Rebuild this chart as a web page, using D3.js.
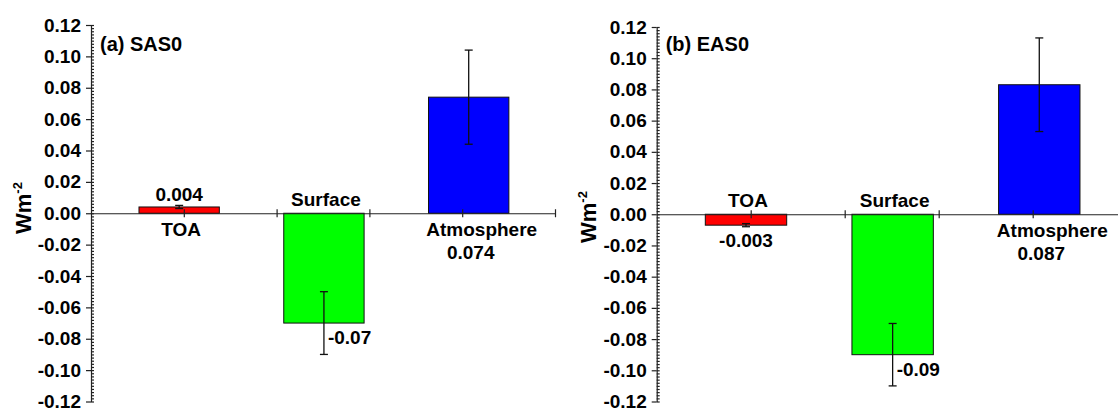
<!DOCTYPE html>
<html>
<head>
<meta charset="utf-8">
<script src="https://cdn.jsdelivr.net/npm/d3@7"></script>
<style>
  body { margin: 0; background: #fff; }
  svg { display: block; font-family: "Liberation Sans", Arial, sans-serif; font-weight: bold; }
  .axis path, .axis line { stroke: #222; stroke-width: 1.2; }
  .axis text { font-size: 19px; font-weight: bold; fill: #000; font-family: "Liberation Sans", Arial, sans-serif; }
</style>
</head>
<body>
<div id="chart"></div>
<script>
// data
const categories = ["TOA", "Surface", "Atmosphere"];
const barColors = ["#ff0000", "#00ff00", "#0000ff"];

const sasValues = [0.004, -0.07, 0.074];
const sasErrors = [0.001, 0.02, 0.03];
const sasLabels = ["0.004", "-0.07", "0.074"];

const easValues = [-0.007, -0.09, 0.083];
const easErrors = [0.001, 0.02, 0.03];
const easLabels = ["-0.003", "-0.09", "0.087"];

const yTicks = [-0.12, -0.10, -0.08, -0.06, -0.04, -0.02, 0.00, 0.02, 0.04, 0.06, 0.08, 0.10, 0.12];
const xTicks = [1, 2, 3, 4, 5];

const w = 1118, h = 412;

const svg = d3.select('#chart')
  .append('svg')
  .attr('width', w)
  .attr('height', h)
  .style('background-color', '#fff');

// one panel
const drawPanel = (p) => {
  const yScale = d3.scaleLinear().domain([-0.12, 0.12]).range([p.bottom, p.top]);
  const xScale = d3.scaleLinear().domain([0, 5]).range([p.left, p.left + 5 * p.unit]);
  const band = d3.scaleBand()
    .domain(categories)
    .range([xScale(0.17), xScale(4.85)])
    .paddingInner(0.445)
    .paddingOuter(0.2225);

  const g = svg.append('g');
  const y0 = yScale(0);

  const rows = categories.map((c, i) => ({ cat: c, v: p.values[i], e: p.errors[i], lab: p.labels[i], i: i }));

  // bars
  g.selectAll('rect.bar')
    .data(rows)
    .enter()
    .append('rect')
    .attr('class', 'bar')
    .attr('x', d => band(d.cat))
    .attr('y', d => Math.min(yScale(d.v), y0))
    .attr('width', band.bandwidth())
    .attr('height', d => Math.abs(yScale(d.v) - y0))
    .attr('fill', (d, i) => barColors[i])
    .attr('stroke', '#111')
    .attr('stroke-width', 1);

  // error bars
  const cx = d => band(d.cat) + band.bandwidth() / 2;
  const eb = g.selectAll('g.err').data(rows).enter().append('g').attr('class', 'err')
    .attr('stroke', '#111').attr('stroke-width', 1.3);
  eb.append('line')
    .attr('x1', cx).attr('x2', cx)
    .attr('y1', d => yScale(d.v - d.e)).attr('y2', d => yScale(d.v + d.e));
  eb.append('line')
    .attr('x1', d => cx(d) - 4).attr('x2', d => cx(d) + 4)
    .attr('y1', d => yScale(d.v - d.e)).attr('y2', d => yScale(d.v - d.e));
  eb.append('line')
    .attr('x1', d => cx(d) - 4).attr('x2', d => cx(d) + 4)
    .attr('y1', d => yScale(d.v + d.e)).attr('y2', d => yScale(d.v + d.e));

  // y axis, major ticks out, minor ticks in
  const y_axis = d3.axisLeft(yScale)
    .tickValues(yTicks)
    .tickFormat(d => d.toFixed(2))
    .tickSize(5)
    .tickSizeOuter(0)
    .tickPadding(5);
  g.append('g')
    .attr('class', 'axis')
    .attr('transform', 'translate(' + p.left + ',0)')
    .call(y_axis);

  const minor = d3.range(-60, 61).map(k => k * 0.002);
  g.append('g')
    .attr('class', 'axis')
    .attr('transform', 'translate(' + p.left + ',0)')
    .call(d3.axisRight(yScale).tickValues(minor).tickSize(3).tickFormat(''))
    .call(s => s.select('.domain').remove());

  // x axis at zero
  g.append('g')
    .attr('class', 'axis')
    .attr('transform', 'translate(0,' + y0 + ')')
    .call(d3.axisBottom(xScale).tickValues(xTicks).tickFormat('').tickSizeOuter(0))
    .call(s => s.selectAll('.tick line').attr('y1', -4).attr('y2', 4));

  // category names: above the axis for negative bars, below for positive
  g.selectAll('text.cat')
    .data(rows)
    .enter()
    .append('text')
    .attr('class', 'cat')
    .attr('font-size', 19)
    .attr('text-anchor', 'middle')
    .attr('x', d => cx(d) + (d.i === 2 ? 13 : 2))
    .attr('y', d => d.v < 0 ? y0 - 7 : y0 + 23)
    .text(d => d.cat);

  // value labels
  g.selectAll('text.val')
    .data(rows)
    .enter()
    .append('text')
    .attr('class', 'val')
    .attr('font-size', 19)
    .attr('text-anchor', d => d.i === 1 ? 'start' : 'middle')
    .attr('x', d => d.i === 1 ? cx(d) + 4 : cx(d) + (d.i === 2 ? 2 : 0))
    .attr('y', d => {
      if (d.i === 0) return d.v >= 0 ? yScale(d.v) - 6 : yScale(d.v) + 22;
      if (d.i === 1) return yScale(d.v) + 21;
      return y0 + 46;
    })
    .text(d => d.lab);

  // panel title
  g.append('text')
    .attr('x', p.left + 9)
    .attr('y', 51)
    .attr('font-size', 20)
    .text(p.title);

  // y label
  const yl = g.append('text')
    .attr('transform', 'translate(' + p.labelX + ',' + p.labelY + ') rotate(-90)')
    .attr('font-size', 22);
  yl.append('tspan').text('Wm');
  yl.append('tspan').attr('dy', -9).attr('font-size', 13).text('-2');
};

drawPanel({ left: 91, unit: 92.8, top: 25, bottom: 401.5, values: sasValues, errors: sasErrors,
  labels: sasLabels, title: '(a) SAS0', labelX: 31, labelY: 234 });
drawPanel({ left: 656.7, unit: 94, top: 27, bottom: 401.5, values: easValues, errors: easErrors,
  labels: easLabels, title: '(b) EAS0', labelX: 596, labelY: 243 });
</script>
</body>
</html>
